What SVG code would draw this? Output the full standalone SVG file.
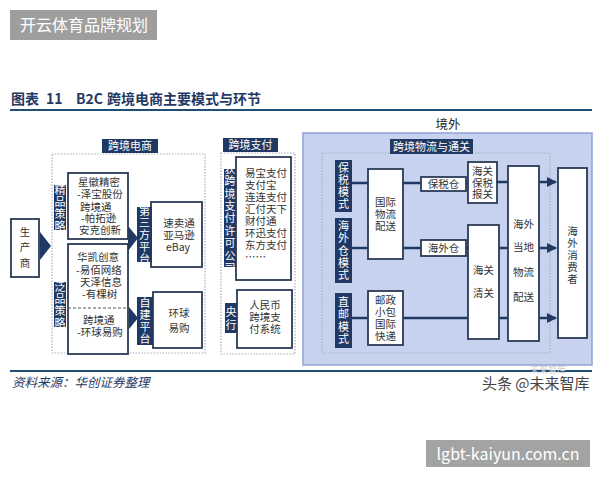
<svg xmlns="http://www.w3.org/2000/svg" width="600" height="480" viewBox="0 0 600 480">
<defs>
<style>
text{font-family:"Noto Sans CJK SC","Liberation Sans",sans-serif;}
.lbl{fill:#1f3864;}
.lt{fill:#fff;font-size:11px;text-anchor:middle;}
.v{writing-mode:vertical-rl;text-anchor:middle;}
.bx{fill:#fff;stroke:#2b3a57;stroke-width:1.8;}
.t{fill:#333;font-size:10.5px;}
.c{text-anchor:middle;}
.dot{fill:none;stroke:#a9aeb8;stroke-width:1.2;stroke-dasharray:1.5 1.5;}
.ln{stroke:#1f3864;stroke-width:2.5;fill:none;}
.chev{fill:#1f3864;}
</style>
<marker id="ah" viewBox="0 0 10 10" refX="9" refY="5" markerWidth="4" markerHeight="4" orient="auto" markerUnits="strokeWidth">
<path d="M0,0 L10,5 L0,10 z" fill="#1f3864"/>
</marker>
</defs>
<rect width="600" height="480" fill="#fff"/>

<!-- top banner -->
<rect x="10" y="10" width="147" height="30" fill="#9e9e9e"/>
<text x="20" y="31" fill="#fff" font-size="16">开云体育品牌规划</text>

<!-- title -->
<text fill="#1f3864" font-size="14" font-weight="bold" font-family="'Liberation Serif','Noto Sans CJK SC',serif"><tspan x="11" y="104">图表</tspan><tspan x="46" y="104">11</tspan><tspan x="76" y="104">B2C</tspan><tspan x="107" y="104">跨境电商主要模式与环节</tspan></text>
<line x1="10" y1="110" x2="592" y2="110" stroke="#1f4e79" stroke-width="2"/>

<!-- overseas region -->
<g id="overseas">
<rect x="303" y="133" width="289" height="232" fill="#c7d3ee" stroke="#8ea3d2" stroke-width="1.5"/>
<text x="448" y="129" fill="#222" font-size="12.5" text-anchor="middle">境外</text>
</g>

<!-- section frames -->
<g id="sec-ecom">
<rect class="dot" x="52" y="154" width="153" height="199"/>
<rect class="lbl" x="102" y="139" width="56" height="14"/>
<text class="lt" x="130" y="150" font-size="11">跨境电商</text>
</g>
<g id="sec-pay">
<rect class="dot" x="221" y="153" width="74" height="201"/>
<rect class="lbl" x="223" y="138" width="55" height="14"/>
<text class="lt" x="250.5" y="149" font-size="11">跨境支付</text>
</g>
<g id="sec-logi">
<rect class="dot" x="322" y="153" width="228" height="200"/>
<rect class="lbl" x="390" y="139" width="83" height="15"/>
<text class="lt" x="431.5" y="150.5" font-size="11">跨境物流与通关</text>
</g>

<!-- connectors -->
<g id="connectors">
<path class="ln" d="M352,183 H368 M403,183 H497 M497,182 H538"/>
<path class="ln" d="M539,182 H556" marker-end="url(#ah)"/>
<path class="ln" d="M352,248 H538"/>
<path class="ln" d="M539,248 H556" marker-end="url(#ah)"/>
<path class="ln" d="M352,318 H538"/>
<path class="ln" d="M539,318 H556" marker-end="url(#ah)"/>
<polygon class="chev" points="40,232 51,246 40,260"/>
<polygon class="chev" points="128,226 138,238 128,251"/>
<polygon class="chev" points="129,307 138,318 129,329"/>
</g>

<!-- producer -->
<g id="producer">
<rect class="bx" x="11" y="219" width="28" height="58"/>
<text class="t v" x="25" y="250" font-size="13.5" letter-spacing="5">生产商</text>
</g>

<!-- boutique strategy -->
<g id="boutique">
<rect class="bx" x="68" y="173" width="60" height="66"/>
<text class="t" x="78" y="186">星徽精密</text>
<text class="t" x="77" y="198">-泽宝股份</text>
<text class="t" x="80" y="211">跨境通</text>
<text class="t" x="81" y="222">-帕拓逊</text>
<text class="t" x="79" y="234">安克创新</text>
<rect class="lbl" x="54" y="185" width="12" height="45"/>
<text class="lt v" x="60" y="208" font-size="10" letter-spacing="1">精品策略</text>
</g>

<!-- generic strategy -->
<g id="generic">
<rect class="bx" x="68" y="244" width="60" height="110"/>
<line x1="68" y1="308" x2="128" y2="308" stroke="#555" stroke-width="1" stroke-dasharray="3 2"/>
<text class="t" x="77" y="261">华凯创意</text>
<text class="t" x="76" y="274">-易佰网络</text>
<text class="t" x="80" y="286">天泽信息</text>
<text class="t" x="82" y="298">-有棵树</text>
<text class="t" x="83" y="324">跨境通</text>
<text class="t" x="77" y="336">-环球易购</text>
<rect class="lbl" x="54" y="282" width="12" height="45"/>
<text class="lt v" x="60" y="305" font-size="10" letter-spacing="1">泛品策略</text>
</g>

<!-- third-party platform -->
<g id="third-party">
<rect class="bx" x="151" y="202" width="51" height="65"/>
<text class="t c" x="179" y="227" font-size="11">速卖通</text>
<text class="t c" x="179" y="239" font-size="11">亚马逊</text>
<text class="t c" x="178" y="251" font-size="11">eBay</text>
<rect class="lbl" x="137" y="207" width="15" height="55"/>
<text class="lt v" x="144.5" y="235" font-size="10" letter-spacing="1">第三方平台</text>
</g>

<!-- self-built platform -->
<g id="self-built">
<rect class="bx" x="153" y="292" width="49" height="56"/>
<text class="t c" x="179" y="317" font-size="11.5">环球</text>
<text class="t c" x="179" y="332" font-size="11.5">易购</text>
<rect class="lbl" x="137" y="297" width="16" height="48"/>
<text class="lt v" x="145" y="321.5" font-size="11" letter-spacing="1">自建平台</text>
</g>

<!-- licensed payment -->
<g id="licensed-pay">
<rect class="bx" x="236" y="157" width="55" height="123"/>
<text class="t" font-size="11"><tspan x="245" y="177">易宝支付</tspan><tspan x="245" y="189">支付宝</tspan><tspan x="245" y="201">连连支付</tspan><tspan x="245" y="213">汇付天下</tspan><tspan x="245" y="225">财付通</tspan><tspan x="245" y="237">环迅支付</tspan><tspan x="245" y="249">东方支付</tspan><tspan x="245" y="261">……</tspan></text>
<rect class="lbl" x="224" y="169" width="12" height="98"/>
<text class="lt v" x="230" y="219" font-size="9.5" letter-spacing="1.4">获跨境支付许可公司</text>
</g>

<!-- central bank -->
<g id="central-bank">
<rect class="bx" x="237" y="290" width="55" height="58"/>
<text class="t c" x="265" y="309" font-size="11">人民币</text>
<text class="t c" x="265" y="321" font-size="11">跨境支</text>
<text class="t c" x="265" y="333" font-size="11">付系统</text>
<rect class="lbl" x="225" y="303" width="12" height="30"/>
<text class="lt v" x="231" y="319" font-size="11" letter-spacing="2">央行</text>
</g>

<!-- logistics modes -->
<g id="bonded-mode">
<rect class="lbl" x="335" y="160" width="17" height="52"/>
<text class="lt v" x="343.5" y="186.5" font-size="11.5" letter-spacing="1.2">保税模式</text>
</g>
<g id="overseas-wh-mode">
<rect class="lbl" x="335" y="218" width="17" height="65"/>
<text class="lt v" x="343.5" y="251" font-size="11.5" letter-spacing="1.2">海外仓模式</text>
</g>
<g id="direct-mode">
<rect class="lbl" x="335" y="293" width="17" height="55"/>
<text class="lt v" x="343.5" y="321" font-size="11.5" letter-spacing="1.5">直邮模式</text>
</g>

<g id="intl-logistics">
<rect class="bx" x="368" y="169" width="35" height="90"/>
<text class="t c" x="385.5" y="206">国际</text>
<text class="t c" x="385.5" y="218">物流</text>
<text class="t c" x="385.5" y="230">配送</text>
</g>
<g id="postal">
<rect class="bx" x="368" y="291" width="35" height="54"/>
<text class="t c" x="385.5" y="304">邮政</text>
<text class="t c" x="385.5" y="316">小包</text>
<text class="t c" x="385.5" y="328">国际</text>
<text class="t c" x="385.5" y="340">快递</text>
</g>
<g id="bonded-wh">
<rect class="bx" x="421" y="177" width="45" height="14"/>
<text class="t c" x="443.5" y="188">保税仓</text>
</g>
<g id="overseas-wh">
<rect class="bx" x="421" y="240" width="45" height="16"/>
<text class="t c" x="443.5" y="252">海外仓</text>
</g>
<g id="customs-bonded">
<rect class="bx" x="468" y="162" width="29" height="41"/>
<text class="t c" x="482.5" y="175" font-size="10">海关</text>
<text class="t c" x="482.5" y="186.5" font-size="10">保税</text>
<text class="t c" x="482.5" y="198" font-size="10">报关</text>
</g>
<g id="customs-clear">
<rect class="bx" x="468" y="225" width="31" height="114"/>
<text class="t c" x="483.5" y="274">海关</text>
<text class="t c" x="483.5" y="297">清关</text>
</g>
<g id="local-delivery">
<rect class="bx" x="508" y="166" width="31" height="175"/>
<text class="t c" x="523.5" y="228">海外</text>
<text class="t c" x="523.5" y="251">当地</text>
<text class="t c" x="523.5" y="276">物流</text>
<text class="t c" x="523.5" y="301">配送</text>
</g>
<g id="consumer">
<rect class="bx" x="558" y="168" width="29" height="170"/>
<text class="t v" x="572.5" y="256" font-size="12" letter-spacing="1.5">海外消费者</text>
</g>

<!-- footer -->
<line x1="10" y1="371" x2="592" y2="371" stroke="#1f4e79" stroke-width="1.8"/>
<text x="12" y="387" fill="#1f3864" font-size="12.5" font-style="italic">资料来源：华创证券整理</text>
<text x="530" y="373" fill="#cfcfcf" font-size="9">未来智库</text>
<text x="482" y="389" fill="#444" font-size="15">头条 @未来智库</text>

<rect x="426" y="440" width="164" height="27" fill="#a3a3a3"/>
<text x="508" y="460" fill="#fff" font-size="16" text-anchor="middle">lgbt-kaiyun.com.cn</text>
</svg>
